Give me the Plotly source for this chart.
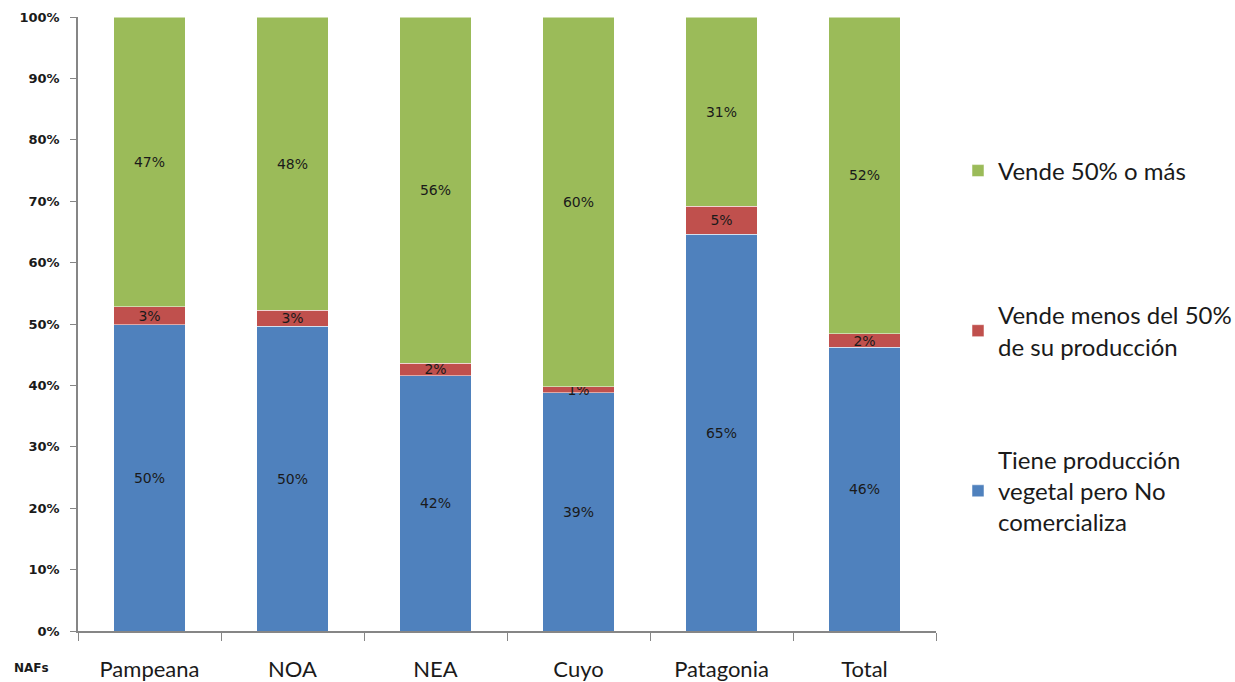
import plotly.graph_objects as go

categories = ["Pampeana", "NOA", "NEA", "Cuyo", "Patagonia", "Total"]
no_comercializa = [49.9, 49.6, 41.6, 38.8, 64.6, 46.2]
vende_menos = [2.9, 2.6, 2.0, 1.0, 4.6, 2.2]
vende_mas = [47.2, 47.8, 56.4, 60.2, 30.8, 51.6]
ytick_vals = [0, 10, 20, 30, 40, 50, 60, 70, 80, 90, 100]
ytick_text = [f"{v}%" for v in ytick_vals]

series = [
    ("Tiene producción<br>vegetal pero No<br>comercializa", no_comercializa, "#4F81BD", "legend3"),
    ("Vende menos del 50%<br>de su producción", vende_menos, "#C0504D", "legend2"),
    ("Vende 50% o más", vende_mas, "#9BBB59", "legend"),
]

fig = go.Figure()
for name, vals, color, leg in series:
    fig.add_trace(go.Bar(
        x=categories, y=vals, name=name, legend=leg, showlegend=True,
        marker=dict(color=color, line=dict(color="rgba(255,255,255,0.5)", width=1)),
        texttemplate="%{y:.0f}%", textposition="inside", insidetextanchor="middle",
        textfont=dict(family="DejaVu Sans", size=14, color="#1a1a1a"),
        constraintext="none",
    ))

pw = 1235 - 78 - 299
ph = 682 - 17 - 51

def px_x(x):
    return (x - 78) / pw

def px_y(y):
    return (631 - y) / ph

legend_font = dict(family="Lato", size=24, color="#1a1a1a")
leg_common = dict(x=px_x(958), xanchor="left", yanchor="middle", font=legend_font,
                  itemwidth=30, bgcolor="rgba(0,0,0,0)")

fig.update_layout(
    barmode="stack", bargap=0.5,
    width=1235, height=682,
    showlegend=True,
    margin=dict(l=78, r=299, t=17, b=51, autoexpand=False),
    paper_bgcolor="white", plot_bgcolor="white",
    uniformtext=dict(minsize=14, mode="show"),
    legend=dict(y=px_y(171), **leg_common),
    legend2=dict(y=px_y(331), **leg_common),
    legend3=dict(y=px_y(491), **leg_common),
    xaxis=dict(
        showline=True, linecolor="#868686", linewidth=1.5,
        ticks="outside", tickson="boundaries", ticklen=8, tickcolor="#868686",
        tickfont=dict(family="Lato", size=22, color="#1a1a1a"),
        ticklabelstandoff=18, showgrid=False, automargin=False,
    ),
    yaxis=dict(
        range=[0, 100], tickvals=ytick_vals, ticktext=ytick_text,
        showline=True, linecolor="#868686", linewidth=1.5,
        ticks="outside", ticklen=6, tickcolor="#868686",
        tickfont=dict(family="DejaVu Sans", size=13, color="#1a1a1a", weight="bold"),
        ticklabelstandoff=8, showgrid=False, zeroline=False, automargin=False,
    ),
    annotations=[dict(
        text="<b>NAFs</b>", x=px_x(31), y=px_y(668), xref="paper", yref="paper",
        xanchor="center", yanchor="middle",
        showarrow=False, font=dict(family="DejaVu Sans", size=12, color="#1a1a1a"),
    )],
)

fig.write_html("out.html")
